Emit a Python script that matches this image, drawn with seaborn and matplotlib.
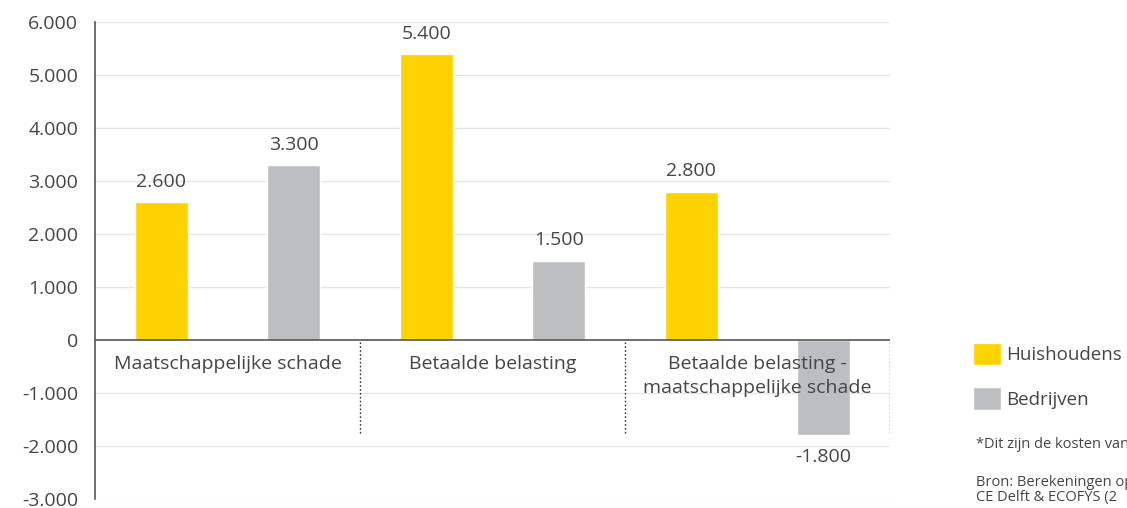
import matplotlib
matplotlib.use("Agg")
import matplotlib.pyplot as plt
import seaborn as sns
import pandas as pd

# Kosten per categorie en doelgroep
categories = ["Maatschappelijke schade", "Betaalde belasting",
              "Betaalde belasting -\nmaatschappelijke schade"]
groups = ["Huishoudens", "Bedrijven"]
huishoudens = [2600, 5400, 2800]
bedrijven = [3300, 1500, -1800]
yticks = [-3000, -2000, -1000, 0, 1000, 2000, 3000, 4000, 5000, 6000]
notes = ["*Dit zijn de kosten van", "Bron: Berekeningen op",
         "CE Delft & ECOFYS (2"]

colors = {"Huishoudens": "#FFD200", "Bedrijven": "#BDBEC0"}
text_color = "#454545"

df = pd.DataFrame({
    "categorie": categories * 2,
    "groep": [groups[0]] * 3 + [groups[1]] * 3,
    "waarde": huishoudens + bedrijven,
})

def nl(v):
    return f"{v:,.0f}".replace(",", ".")

sns.set_theme(style="white")
plt.rcParams["font.family"] = ["Open Sans", "DejaVu Sans"]

fig = plt.figure(figsize=(11.27, 5.08), dpi=100)
ax = fig.add_axes([95 / 1127, 1 - 499 / 508, 795 / 1127, 477 / 508])

sns.barplot(data=df, x="categorie", y="waarde", hue="groep",
            order=categories, hue_order=groups, palette=colors,
            width=1.0, gap=0.6, dodge=True, ax=ax, legend=True,
            saturation=1, errorbar=None)

ax.set_xlim(-0.5, 2.5)
ax.set_ylim(yticks[0], yticks[-1])
ax.set_yticks(yticks)
ax.set_yticklabels([nl(t) for t in yticks], fontsize=14, color=text_color)
ax.tick_params(axis="y", length=0, pad=12)
ax.set_xticks([])
ax.set_xlabel("")
ax.set_ylabel("")

for t in yticks:
    if t != 0:
        ax.axhline(t, color="#e6e6e6", lw=1, zorder=0)
ax.axhline(0, color="#555555", lw=1.2, zorder=3)

for s in ["top", "right", "bottom"]:
    ax.spines[s].set_visible(False)
ax.spines["left"].set_color("#555555")
ax.spines["left"].set_linewidth(1.2)

# Scheidingslijnen tussen de categorieën
ax.vlines([0.5, 1.5, 2.5], -1750, 0, colors="#333333",
          linestyles=(0, (1.2, 1.6)), lw=1, zorder=3)

# Categorielabels onder de nullijn
for i, c in enumerate(categories):
    ax.text(i, -280, c, ha="center", va="top", fontsize=14,
            color=text_color, linespacing=1.45, zorder=5)

# Waardelabels
for cont in ax.containers:
    for bar in cont:
        h = bar.get_height()
        x = bar.get_x() + bar.get_width() / 2
        if h >= 0:
            ax.annotate(nl(h), (x, h), xytext=(0, 8), textcoords="offset points",
                        ha="center", va="bottom", fontsize=14, color=text_color)
        else:
            ax.annotate(nl(h), (x, h), xytext=(0, -9), textcoords="offset points",
                        ha="center", va="top", fontsize=14, color=text_color)

handles, labels = ax.get_legend_handles_labels()
ax.get_legend().remove()
fig.legend(handles, labels, loc="upper left",
           bbox_to_anchor=(965 / 1127, 1 - 335 / 508), frameon=False,
           fontsize=13.5, handlelength=1.5, handleheight=1.5,
           handletextpad=0.3, labelspacing=1.15, labelcolor=text_color,
           borderaxespad=0)

fig.text(976 / 1127, 1 - 445 / 508, notes[0],
         fontsize=10.5, color=text_color, va="center")
fig.text(976 / 1127, 1 - 482 / 508, notes[1],
         fontsize=10.5, color=text_color, va="center")
fig.text(976 / 1127, 1 - 498 / 508, notes[2],
         fontsize=10.5, color=text_color, va="center")

fig.savefig("out.png", dpi=100)
